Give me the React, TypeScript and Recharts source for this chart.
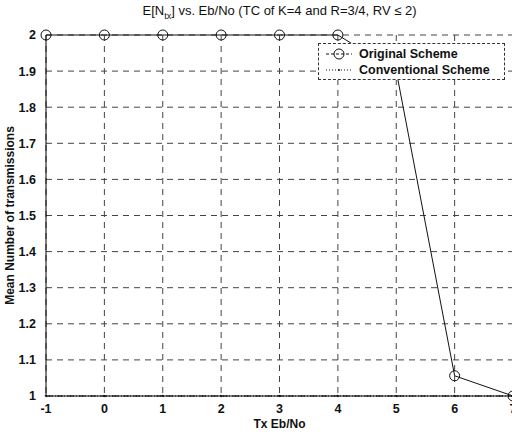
import React from 'react';
import { LineChart, Line, XAxis, YAxis, CartesianGrid } from 'recharts';

const ebNo = [-1, 0, 1, 2, 3, 4, 5, 6, 7];
const originalScheme = [2, 2, 2, 2, 2, 2, 1.9, 1.056, 1.0];
const conventionalScheme = [1, 1, 1, 1, 1, 1, 1, 1, 1];
const xTicks = [-1, 0, 1, 2, 3, 4, 5, 6, 7];
const yTicks = [1, 1.1, 1.2, 1.3, 1.4, 1.5, 1.6, 1.7, 1.8, 1.9, 2];

const data = ebNo.map((x, i) => ({ x, orig: originalScheme[i], conv: conventionalScheme[i] }));

const FONT = 'Liberation Sans, Arial, sans-serif';

const LegendBox = () => (
  <div
    style={{
      position: 'absolute',
      left: 318,
      top: 43,
      background: '#fff',
      border: '1px dashed #333',
      width: 187,
      height: 37,
      fontFamily: FONT,
      fontSize: 12.5,
      fontWeight: 'bold',
      color: '#111',
      boxSizing: 'border-box',
      padding: '2px 0 0 6px',
      lineHeight: '16px',
    }}
  >
    <div style={{ display: 'flex', alignItems: 'center' }}>
      <svg width={28} height={14}>
        <line x1={1} y1={7} x2={27} y2={7} stroke="#111" strokeDasharray="3 2" />
        <circle cx={14} cy={7} r={5} fill="none" stroke="#111" />
      </svg>
      <span style={{ marginLeft: 6 }}>Original Scheme</span>
    </div>
    <div style={{ display: 'flex', alignItems: 'center' }}>
      <svg width={28} height={14}>
        <line x1={1} y1={7} x2={27} y2={7} stroke="#111" strokeDasharray="1 2" />
        <circle cx={14} cy={7} r={1} fill="#111" />
      </svg>
      <span style={{ marginLeft: 6 }}>Conventional Scheme</span>
    </div>
  </div>
);

export default function App() {
  return (
    <div style={{ position: 'absolute', left: 0, top: 0, width: 512, height: 434, overflow: 'hidden', background: '#fff' }}>
      <div
        style={{
          position: 'absolute',
          left: 46,
          width: 467,
          top: 3,
          textAlign: 'center',
          fontFamily: FONT,
          fontSize: 13,
          color: '#111',
          whiteSpace: 'nowrap',
        }}
      >
        E[N<sub style={{ fontSize: 9 }}>tx</sub>] vs. Eb/No (TC of K=4 and R=3/4, RV ≤ 2)
      </div>
      <LineChart
        width={540}
        height={434}
        data={data}
        margin={{ top: 35, right: 27, left: 0, bottom: 0 }}
      >
        <CartesianGrid stroke="#444" strokeDasharray="6 5" />
        <XAxis
          dataKey="x"
          type="number"
          domain={[-1, 7]}
          ticks={xTicks}
          height={38}
          axisLine={{ stroke: '#000' }}
          tickLine={false}
          tick={{ fontFamily: FONT, fontSize: 12.5, fontWeight: 'bold', fill: '#111' }}
          tickMargin={2}
          label={{ value: 'Tx Eb/No', position: 'insideBottom', offset: 6, style: { fontFamily: FONT, fontSize: 12, fontWeight: 'bold', fill: '#111' } }}
        />
        <YAxis
          type="number"
          domain={[1, 2]}
          ticks={yTicks}
          width={46}
          axisLine={{ stroke: '#000' }}
          tickLine={false}
          tickMargin={4}
          tick={{ fontFamily: FONT, fontSize: 12.5, fontWeight: 'bold', fill: '#111' }}
          label={{ value: 'Mean Number of transmissions', angle: -90, position: 'center', dx: -13, style: { fontFamily: FONT, fontSize: 12, fontWeight: 'bold', fill: '#111', textAnchor: 'middle' } }}
        />
        <Line
          dataKey="conv"
          stroke="#111"
          strokeDasharray="1 2"
          strokeWidth={1}
          dot={{ r: 1, fill: '#111', stroke: '#111' }}
          isAnimationActive={false}
        />
        <Line
          dataKey="orig"
          stroke="#111"
          strokeWidth={1}
          dot={{ r: 5, fill: 'none', stroke: '#111', strokeWidth: 1 }}
          isAnimationActive={false}
        />
      </LineChart>
      <LegendBox />
    </div>
  );
}
